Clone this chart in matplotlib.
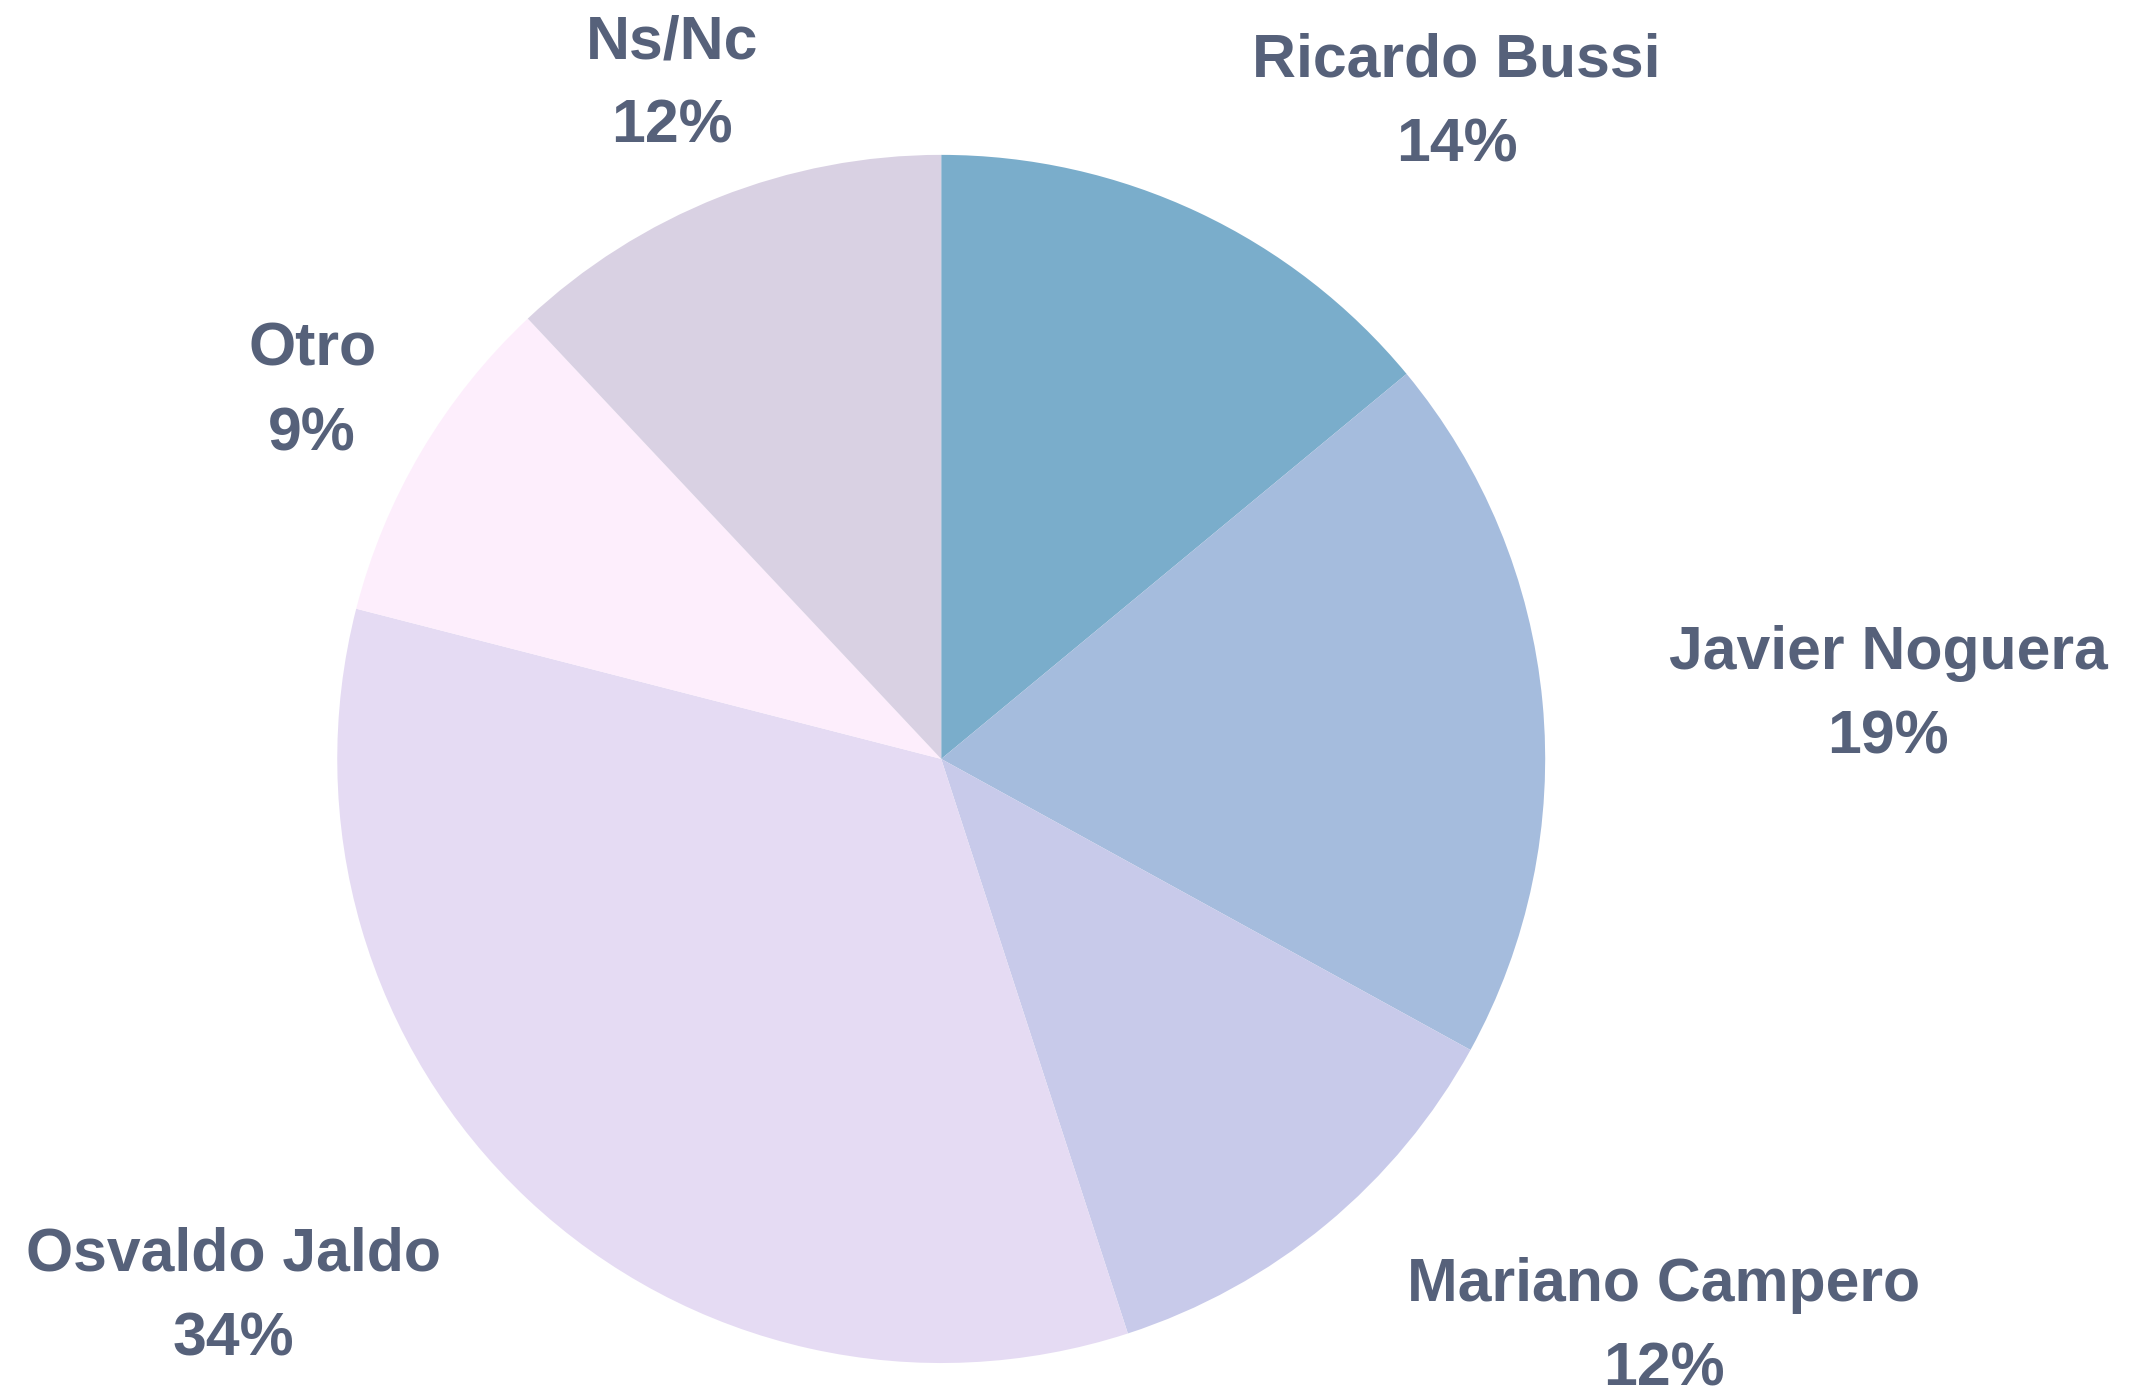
import matplotlib.pyplot as plt
from matplotlib.transforms import ScaledTranslation

candidates = ["Ricardo Bussi", "Javier Noguera", "Mariano Campero",
              "Osvaldo Jaldo", "Otro", "Ns/Nc"]
shares = [14, 19, 12, 34, 9, 12]
colors = ["#7AADCB", "#A5BCDD", "#C8CAEA", "#E5DBF3", "#FDEEFC", "#D9D1E3"]
label_align = ["left", "left", "left", "right", "center", "center"]

TEXT = "#56617A"

fig = plt.figure(figsize=(10.72, 6.945), dpi=200)
# square box for the pie, centred a bit left of the middle
ax = fig.add_axes([0.439 - 0.2817, 0.4536 - 0.4349, 0.5634, 0.8698])

labels = [f"{c}\n{s}%" for c, s in zip(candidates, shares)]
wedges, texts = ax.pie(shares, labels=labels, colors=colors, startangle=90,
                       counterclock=False, radius=1, labeldistance=1.21,
                       wedgeprops=dict(linewidth=0),
                       textprops=dict(color=TEXT, family="Liberation Sans",
                                      fontweight="bold", fontsize=21.9,
                                      linespacing=1.63))
# labels sit a few pixels lower than matplotlib's bbox centring puts them
nudge = ScaledTranslation(0, -0.028, fig.dpi_scale_trans)
for t, ha in zip(texts, label_align):
    t.set_ha(ha)
    t.set_multialignment("center")
    t.set_transform(t.get_transform() + nudge)

ax.set_xlim(-1, 1)
ax.set_ylim(-1, 1)
ax.set_aspect("auto")

fig.savefig("out.png", dpi=200)
